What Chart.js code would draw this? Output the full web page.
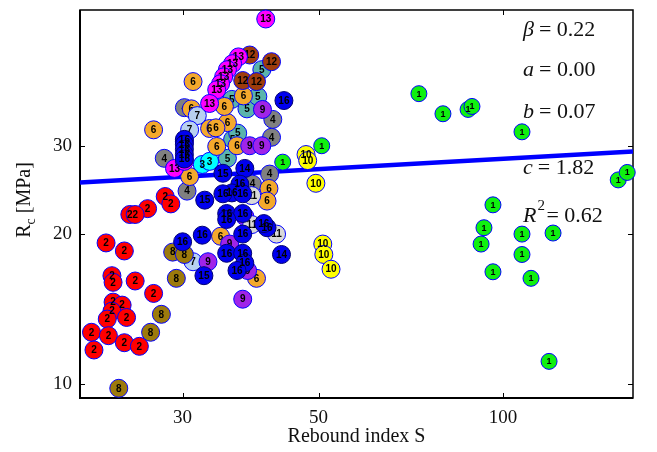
<!DOCTYPE html>
<html>
<head>
<meta charset="utf-8">
<script src="https://cdn.jsdelivr.net/npm/chart.js@4.4.1/dist/chart.umd.min.js"></script>
<style>
html, body { margin: 0; padding: 0; background: #fff; }
#wrap { width: 657px; height: 452px; }
</style>
</head>
<body>
<div id="wrap"><canvas id="rcChart" width="657" height="452"></canvas></div>
<script>
// axis ticks
const xTicks = [30, 50, 100];
const yTicks = [10, 20, 30];

// [S, Rc] per group
const g1 = [[72.9,38.3],[79.8,34.9],[87.7,35.6],[89.0,36.1],[107.4,32.1],[154.2,25.7],[159.5,26.6],
            [96.3,22.9],[93.1,20.6],[92.1,19.1],[107.4,20.0],[120.7,20.1],[107.4,18.2],[96.3,16.8],
            [111.1,16.3],[118.9,11.1],[43.7,27.9],[50.6,30.1]];
const g2 = [[28.1,23.8],[28.7,23.0],[26.3,22.5],[24.6,21.9],[25.1,21.9],[22.5,19.2],[24.1,18.5],
            [23.0,16.5],[23.1,16.0],[25.1,16.1],[26.9,15.2],[23.1,14.6],[23.9,14.4],[23.0,14.0],
            [24.3,13.6],[22.6,13.5],[21.3,12.7],[22.7,12.5],[24.1,12.1],[25.5,11.9],[21.5,11.7]];
const g3 = [[32.3,27.6],[33.2,28.0]];
const g4 = [[28.0,28.4],[30.5,24.4],[39.0,25.2],[41.6,26.4],[41.9,31.3],[42.1,34.0],[30.2,35.9]];
const g5 = [[36.1,37.3],[38.2,35.7],[39.8,37.8],[35.5,28.4],[36.2,31.0],[40.4,42.8],[36.9,31.9]];
const g6 = [[31.2,40.5],[26.9,32.4],[37.7,37.9],[35.5,33.5],[33.2,32.6],[34.0,32.7],[34.1,30.0],
            [36.8,30.1],[30.8,26.1],[41.5,24.7],[31.0,35.7],[34.6,19.8],[39.6,16.3],[41.2,23.3],[35.1,36.1]];
const g7 = [[31.7,34.6],[30.8,32.4],[31.2,17.6]];
const g8 = [[27.7,13.8],[26.6,12.7],[23.6,9.8],[29.3,16.3],[28.9,18.4],[30.2,18.2]];
const g9 = [[40.5,35.6],[38.6,30.1],[40.4,30.1],[33.0,17.6],[35.8,19.1],[37.6,14.8],[38.3,16.9],[37.9,21.7]];
const g10 = [[47.7,28.9],[48.0,28.1],[49.5,25.3],[50.8,19.1],[51.0,18.2],[52.4,17.0]];
const g11 = [[38.9,23.9],[38.9,20.9],[42.7,20.0]];
const g12 = [[38.6,45.8],[41.9,44.4],[37.6,40.7],[39.6,40.5]];
const g13 = [[41.0,54.1],[37.0,45.4],[36.2,44.0],[35.5,42.8],[35.0,41.4],[34.6,40.1],[34.1,39.0],
             [33.2,36.6],[29.1,27.1],[30.2,30.7],[30.2,28.0]];
const g14 = [[37.9,27.1],[43.5,18.2]];
const g15 = [[34.9,26.5],[32.6,23.4],[32.5,16.5]];
const g16 = [[43.9,37.1],[37.2,25.2],[36.1,24.2],[34.9,24.1],[37.6,24.1],[35.4,22.0],[37.6,22.0],
             [35.4,21.4],[32.3,19.9],[37.6,20.0],[41.2,20.6],[40.7,21.0],[30.0,19.3],[35.4,18.3],
             [37.6,18.3],[37.9,17.5],[36.8,16.9],[30.2,31.0],[30.2,30.3],[30.2,29.6],[30.2,28.9],[30.2,28.3]];

// fitted curve end points
const fitX = [20.4, 163];
const fitY = [25.4, 29.3];

const groups = [g1, g2, g3, g4, g5, g6, g7, g8, g9, g10, g11, g12, g13, g14, g15, g16];
const groupColors = ['#10f010', '#ff0000', '#00ffff', '#808080', '#5ab4ac', '#f4a92c', '#b8d0f0', '#9c7a0c',
                     '#a024e8', '#ffff00', '#d8d8d8', '#9e3c0c', '#ff00ff', '#0000f0', '#0000f0', '#0000f0'];

const serif = "'Liberation Serif', 'Times New Roman', serif";

const datasets = groups.map((pts, i) => ({
    group: i + 1,
    data: pts.map(p => ({x: p[0], y: p[1]})),
    backgroundColor: groupColors[i],
    borderColor: i >= 13 ? '#000070' : '#0000ff',
    borderWidth: 1,
    pointRadius: i === 0 ? 8 : 9,
    pointHoverRadius: i === 0 ? 8 : 9,
    clip: false,
    order: 17 - (i + 1)
}));

datasets.push({
    data: fitX.map((x, i) => ({x: x, y: fitY[i]})),
    showLine: true,
    borderColor: '#0000ff',
    borderWidth: 4.5,
    pointRadius: 0,
    order: 100
});

// number inside every marker
const labelPlugin = {
    id: 'markerLabels',
    afterDatasetDraw(chart, args) {
        const ds = chart.data.datasets[args.index];
        if (!ds.group) return;
        const ctx = chart.ctx;
        ctx.save();
        ctx.fillStyle = '#000';
        ctx.textAlign = 'center';
        ctx.textBaseline = 'middle';
        ctx.font = ds.group === 1 ? "bold 9px 'Liberation Sans', Arial" : "bold 10px 'Liberation Sans', Arial";
        args.meta.data.forEach(pt => {
            ctx.fillText(String(ds.group), pt.x, pt.y + 0.5);
        });
        ctx.restore();
    }
};

// box, inward ticks, y title and fit parameters
const framePlugin = {
    id: 'frame',
    beforeDatasetsDraw(chart) {
        const {ctx, chartArea: a, scales} = chart;
        ctx.save();
        ctx.strokeStyle = '#000';
        ctx.lineWidth = 1.5;
        ctx.strokeRect(a.left, a.top, a.right - a.left, a.bottom - a.top);
        ctx.lineWidth = 2;
        ctx.beginPath();
        ctx.moveTo(a.left, a.top);
        ctx.lineTo(a.left, a.bottom);
        ctx.lineTo(a.right, a.bottom);
        ctx.stroke();
        ctx.lineWidth = 1;
        ctx.beginPath();
        xTicks.forEach(v => {
            const px = Math.round(scales.x.getPixelForValue(v)) + 0.5;
            ctx.moveTo(px, a.bottom); ctx.lineTo(px, a.bottom - 5);
            ctx.moveTo(px, a.top); ctx.lineTo(px, a.top + 5);
        });
        yTicks.forEach(v => {
            const py = Math.round(scales.y.getPixelForValue(v)) + 0.5;
            ctx.moveTo(a.left, py); ctx.lineTo(a.left + 5, py);
            ctx.moveTo(a.right, py); ctx.lineTo(a.right - 5, py);
        });
        ctx.stroke();
        ctx.restore();
    },
    afterDraw(chart) {
        const ctx = chart.ctx;
        ctx.save();
        ctx.fillStyle = '#111';
        // y axis title with subscript
        ctx.translate(30, 200);
        ctx.rotate(-Math.PI / 2);
        ctx.textBaseline = 'alphabetic';
        const big = '20px ' + serif, small = '14px ' + serif;
        ctx.font = big;
        const wR = ctx.measureText('R').width;
        const wRest = ctx.measureText(' [MPa]').width;
        ctx.font = small;
        const wc = ctx.measureText('c').width;
        let x0 = -(wR + wc + wRest) / 2;
        ctx.font = big;
        ctx.fillText('R', x0, 0);
        ctx.font = small;
        ctx.fillText('c', x0 + wR, 5);
        ctx.font = big;
        ctx.fillText(' [MPa]', x0 + wR + wc, 0);
        ctx.restore();

        // fit parameters
        ctx.save();
        ctx.fillStyle = '#111';
        const it = 'italic 22px ' + serif, rg = '22px ' + serif;
        const rows = [['\u03b2', '= 0.22', 36], ['a', '= 0.00', 76], ['b', '= 0.07', 118], ['c', '= 1.82', 174]];
        rows.forEach(r => {
            ctx.font = it;
            ctx.fillText(r[0], 523, r[2]);
            const w = ctx.measureText(r[0]).width;
            ctx.font = rg;
            ctx.fillText(r[1], 523 + w + 5, r[2]);
        });
        ctx.font = it;
        ctx.fillText('R', 523, 222);
        const wR2 = ctx.measureText('R').width;
        ctx.font = '15px ' + serif;
        ctx.fillText('2', 523 + wR2 + 1, 210);
        ctx.font = rg;
        ctx.fillText('= 0.62', 523 + wR2 + 10, 222);
        ctx.restore();
    }
};

const tickFont = {family: serif, size: 19};

new Chart(document.getElementById('rcChart').getContext('2d'), {
    type: 'scatter',
    data: {datasets: datasets},
    options: {
        responsive: false,
        animation: false,
        devicePixelRatio: 1,
        layout: {padding: {top: 8, right: 24, left: 0, bottom: 0}},
        plugins: {legend: {display: false}, tooltip: {enabled: false}},
        scales: {
            x: {
                type: 'logarithmic',
                bounds: 'data',
                min: 20.4,
                max: 163,
                afterBuildTicks: s => { s.ticks = xTicks.map(v => ({value: v})); },
                afterFit: s => { s.height = 54; s.paddingLeft = 0; s.paddingRight = 0; },
                grid: {display: false, drawTicks: false},
                border: {display: false},
                ticks: {
                    autoSkip: false, maxRotation: 0, padding: 9,
                    color: '#111', font: tickFont,
                    callback: v => String(v)
                },
                title: {display: true, text: 'Rebound index S', color: '#111',
                        font: {family: serif, size: 20}, padding: {top: 0, bottom: 3}}
            },
            y: {
                type: 'logarithmic',
                bounds: 'data',
                min: 9.37,
                max: 56.4,
                afterBuildTicks: s => { s.ticks = yTicks.map(v => ({value: v})); },
                afterFit: s => { s.width = 80; s.paddingTop = 0; s.paddingBottom = 0; },
                grid: {display: false, drawTicks: false},
                border: {display: false},
                ticks: {
                    autoSkip: false, padding: 8,
                    color: '#111', font: tickFont,
                    callback: v => String(v)
                }
            }
        }
    },
    plugins: [labelPlugin, framePlugin]
});
</script>
</body>
</html>
